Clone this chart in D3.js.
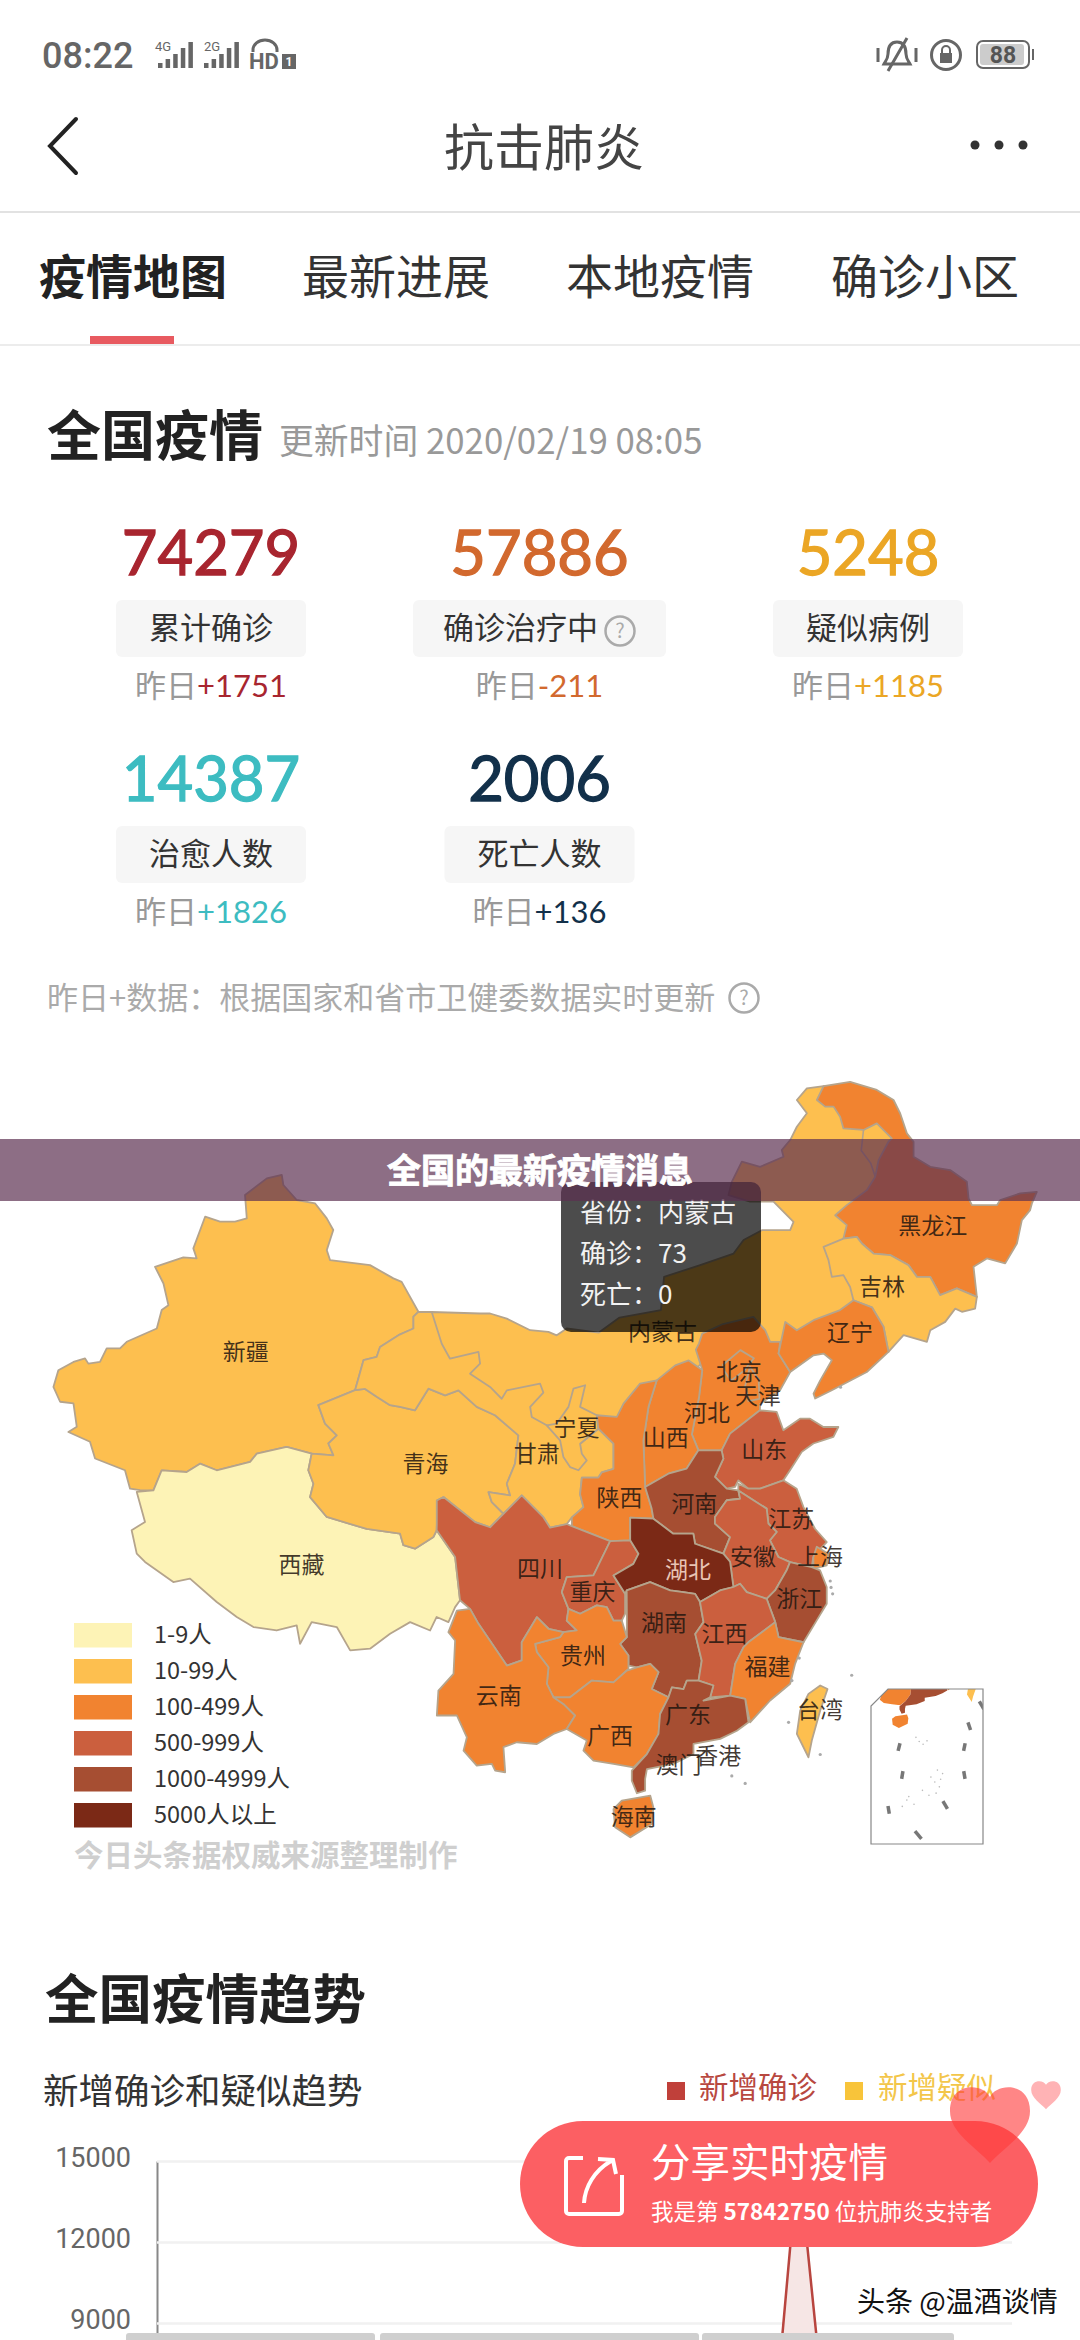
<!DOCTYPE html>
<html>
<head>
<meta charset="utf-8">
<title>抗击肺炎</title>
<script src="https://cdn.jsdelivr.net/npm/d3@7"></script>
<style>
  html, body { margin: 0; padding: 0; background: #fff; }
  svg { display: block; }
  text { font-family: "Noto Sans CJK SC", "Noto Sans", sans-serif; }
</style>
</head>
<body>
<svg id="page" width="1080" height="2340" viewBox="0 0 1080 2340"></svg>
<script>
// headline numbers
const statValues = ['74279', '57886', '5248', '14387', '2006'];
const statLabels = ['累计确诊', '确诊治疗中', '疑似病例', '治愈人数', '死亡人数'];
const statDeltas = ['+1751', '-211', '+1185', '+1826', '+136'];
const statColors = ['#a8252f', '#d2692e', '#eba625', '#3dbcc1', '#12304a'];

// choropleth bins
const binLimits = [10, 100, 500, 1000, 5000];
const binLabels = ['1-9人', '10-99人', '100-499人', '500-999人', '1000-4999人', '5000人以上'];
const binColors = ['#fdf3b6', '#fdbf4f', '#f18330', '#cb5f3e', '#a64e32', '#7b2916'];

// province outlines, [lon, lat]
const outlineNeimenggu = [[97.19,42.76],[100.23,42.69],[100.86,42.69],[101.91,42.45],[103.38,41.91],[104.53,41.83],[105.05,41.67],[105.68,41.99],[107.7,41.8],[109,42.5],[111.6,42.85],[111.8,44.4],[114.07,44.95],[116.17,45.49],[116.8,46.12],[117.95,46.58],[119.73,46.58],[119.94,46.97],[118.68,47.91],[117.21,47.91],[115.85,48.22],[116.06,48.84],[116.69,49.78],[117.84,49.54],[119.31,50.01],[119.2,50.32],[119.73,50.79],[120.15,51.41],[120.78,52.04],[120.15,52.66],[120.78,53.2],[121.83,53.31],[125,52.5],[126.8,51],[126.5,49.5],[125,46.5],[123.5,45],[124,43.5],[122,41.5],[119.8,41],[118,41],[115,41],[113,39.5],[110.5,38],[108.5,37],[107,37.6],[105.5,37],[104.4,37.3],[103,37.7],[102,38.3],[100,39],[98,40],[97,41.5]];
const outlineXinjiang = [[86.82,49],[87.76,49.16],[87.86,48.69],[88.7,47.99],[89.86,47.83],[90.59,47.13],[91,46.59],[90.59,45.65],[90.8,45.18],[93.31,44.95],[94.78,44.33],[95.3,44.17],[96.35,42.77],[96.04,42.54],[96.04,41.99],[95.1,41.68],[93.94,41.13],[93.73,40.67],[92.9,40.51],[92.37,39.11],[90.06,38.41],[90.48,37.55],[91.22,37],[90.69,36.62],[91.01,36.07],[89.64,36.15],[88.07,36.46],[86.19,36.15],[85.77,35.76],[83.67,35.37],[82.62,35.68],[81.78,35.29],[80.21,35.37],[79.69,34.43],[78.85,34.44],[78.22,34.51],[77.9,35.37],[76.02,35.92],[75.7,36.7],[74.34,37.16],[74.87,37.4],[74.66,38.49],[73.82,38.57],[73.4,39.26],[73.71,40.04],[74.66,40.43],[75.39,40.59],[75.6,40.35],[76.33,40.43],[76.75,41.06],[77.59,41.06],[78.01,41.37],[79.9,41.99],[80.21,42.85],[80.63,43.08],[80.32,44.09],[79.79,44.87],[81.57,45.31],[82.41,45.26],[82.2,45.73],[82.94,47.21],[83.88,46.98],[84.82,46.98],[85.56,47.13],[85.45,48.22]];
const outlineXizang = [[78.64,34.36],[79.16,32.96],[78.32,32.57],[78.64,31.48],[79.16,31.09],[80.94,30.15],[81.99,30.31],[83.67,29.22],[84.93,28.52],[85.98,28.05],[87.44,27.89],[88.7,28.13],[88.91,27.27],[89.64,28.28],[91.22,28.05],[92.06,26.96],[93.31,27.04],[94.57,27.74],[95.83,28.28],[97.09,27.89],[97.5,28.52],[98.24,28.28],[98.66,28.98],[98.97,29.3],[98.66,31.32],[97.5,32.57],[97.3,32.26],[96.14,31.71],[95.41,31.87],[95.2,32.41],[93.1,32.63],[90.59,33.19],[89.54,34.12],[89.75,34.74],[89.43,35.37],[89.64,36.15],[88.07,36.46],[86.19,36.15],[85.77,35.76],[83.67,35.37],[82.62,35.68],[81.78,35.29],[80.21,35.37],[79.69,34.43]];
const outlineQinghai = [[92.37,39.11],[93,39.17],[93.73,38.8],[94.57,38.41],[95.2,38.33],[96.14,38.17],[96.98,39.18],[98.03,38.87],[98.87,39.1],[100.02,38.33],[101.17,37.94],[102.64,37],[102.43,35.68],[101.91,34.74],[102.12,34.2],[100.76,34.35],[100.97,33.88],[101.7,33.34],[100.86,32.71],[99.92,32.95],[97.93,34.12],[97.51,33.96],[97.51,32.87],[97.5,32.57],[97.3,32.26],[96.14,31.71],[95.41,31.87],[95.2,32.41],[93.1,32.63],[90.59,33.19],[89.54,34.12],[89.75,34.74],[89.43,35.37],[89.64,36.15],[91.01,36.07],[90.69,36.62],[91.22,37],[90.48,37.55],[90.06,38.41]];
const outlineGansu = [[97.19,42.76],[96.35,42.77],[96.04,42.54],[96.04,41.99],[95.1,41.68],[93.94,41.13],[93.73,40.67],[92.9,40.51],[92.37,39.11],[93,39.17],[93.73,38.8],[94.57,38.41],[95.2,38.33],[96.14,38.17],[96.98,39.18],[98.03,38.87],[98.87,39.1],[100.02,38.33],[101.17,37.94],[102.64,37],[102.43,35.68],[101.91,34.74],[102.12,34.2],[100.76,34.35],[100.97,33.88],[101.7,33.34],[102.85,34.2],[104.21,33.18],[104.63,32.69],[105.68,32.86],[106,33.17],[106.73,33.65],[106.52,34.25],[106.63,35.03],[107.67,35.03],[107.88,35.27],[108.62,35.44],[108.62,36.61],[107.67,37.31],[106.52,36.61],[105.5,37],[104.42,37.47],[103.48,37.86],[103.38,38.33],[104.21,39],[104,39.42],[101.91,39.1],[101.59,38.71],[100.86,39.26],[99.6,39.88],[100.23,40.35],[100.13,40.9],[98.34,40.58],[97.82,41.28]];
const outlineNingxia = [[106.84,39.34],[106.52,38.33],[107.57,37.94],[107.67,37.31],[106.52,36.61],[106.63,36.14],[106.94,35.83],[106.42,35.37],[105.89,35.52],[105.47,35.99],[105.26,36.77],[104.42,37.47],[105.05,37.55],[105.79,38.33],[106.1,39.18]];
const outlineHeilongjiang = [[121.83,53.31],[123.5,53.51],[125.18,53.13],[126.23,52.66],[126.65,52.03],[127.07,51.1],[127.49,50.71],[127.49,50.01],[128.54,49.54],[129.79,49.39],[130.84,48.84],[130.95,48.06],[131.16,47.75],[132.73,47.75],[132.94,47.99],[134.2,48.3],[135.24,48.37],[134.93,47.83],[134.82,47.52],[134.3,47.05],[133.99,45.96],[133.25,45.03],[132.1,45.26],[131.26,44.87],[131.47,43.47],[130.21,43.86],[129.16,43.55],[128.54,44.4],[127.7,44.4],[127.17,44.95],[126.02,45.42],[124.97,45.49],[124.24,45.96],[123.92,46.27],[123.08,46.19],[123.29,46.82],[122.56,47.28],[123.29,47.75],[124.55,48.45],[125.08,49.08],[125.29,49.85],[125.91,50.71],[126.12,50.87],[125.18,51.57],[124.34,51.26],[123.08,51.33],[122.87,51.88],[122.46,52.35],[121.93,52.35],[121.41,52.66]];
const outlineJilin = [[123.08,46.19],[123.92,46.27],[124.24,45.96],[124.97,45.49],[126.02,45.42],[127.17,44.95],[127.7,44.4],[128.54,44.4],[129.16,43.55],[130.21,43.86],[131.47,43.47],[131.36,42.92],[130.53,42.77],[130.11,42.92],[129.48,42.3],[128.54,41.91],[128.33,41.37],[126.86,41.68],[125.91,40.9],[125.6,42.07],[124.87,42.98],[123.71,43.31],[123.5,43.93],[123.08,44.48],[122.35,44.4],[122.14,45.18],[121.83,45.8]];
const outlineLiaoning = [[119.42,42.3],[120.15,41.91],[121.2,42.38],[122.87,42.85],[123.71,43.31],[124.87,42.98],[125.6,42.07],[125.91,40.9],[124.55,39.96],[122.35,39.11],[121.3,38.72],[121.2,38.95],[121.62,39.57],[122.35,40.51],[121.83,40.82],[121.2,40.74],[119.73,39.96],[119,40.82]];
const outlineHebei = [[117.42,42.53],[118.16,41.91],[118.47,41.37],[119.1,41.37],[119,40.82],[119.73,39.96],[119.1,39.11],[117.84,38.48],[117.83,38.17],[115.95,37.08],[115.42,36.3],[113.96,36.3],[113.55,37.05],[114,38.8],[114.2,40.05],[113.8,41],[114,41.3],[114.2,41.75],[115.5,42.2]];
const outlineBeijing = [[115.5,40.3],[116.6,40.98],[117.45,40.6],[116.8,40],[116,39.55],[115.6,40]];
const outlineTianjin = [[117.2,40.2],[117.75,39.6],[117.8,38.7],[117.1,38.6],[116.9,39.3]];
const outlineShanxi = [[112.5,40.27],[113.35,40.5],[114.2,40.05],[114,38.8],[113.55,37.05],[113.96,36.3],[113.22,35.45],[112.07,35.21],[110.61,34.59],[110.5,36.75],[110.82,38.33],[111.34,39.57]];
const outlineShaanxi = [[111.34,39.57],[110.29,39.42],[109.25,38.48],[108.83,37.86],[107.57,37.94],[107.67,37.31],[108.62,36.61],[108.62,35.44],[107.88,35.27],[107.67,35.03],[106.63,35.03],[106.52,34.25],[106.73,33.65],[106,33.17],[106,32.76],[108.41,32.06],[109.67,32.1],[109.67,33.16],[111.13,33.11],[111.02,33.58],[110.61,34.59],[110.5,36.75],[110.82,38.33]];
const outlineShandong = [[117.83,38.17],[118.88,38.1],[119.3,37.24],[120.35,37.78],[120.98,37.78],[121.82,37.39],[122.76,37.39],[122.45,36.93],[121.19,36.62],[120.46,36.23],[119.72,35.37],[119.3,34.9],[117.84,34.51],[117.1,34.51],[116.47,34.9],[116.26,34.59],[115.74,34.51],[115,35.06],[115.53,35.91],[115.42,36.3],[115.95,37.08]];
const outlineHenan = [[113.96,36.3],[115.42,36.3],[115.53,35.91],[115,35.06],[115.74,34.51],[116.47,34.43],[116.58,34.04],[115.74,33.97],[115,33.19],[115,32.88],[115.95,32.25],[115.53,31.48],[113.75,31.94],[113.64,32.41],[112.38,32.41],[111.13,33.11],[111.02,33.58],[110.61,34.59],[112.07,35.21],[113.22,35.45]];
const outlineJiangsu = [[116.47,34.43],[116.47,34.74],[117.1,34.51],[117.84,34.51],[119.3,34.9],[120.14,34.51],[120.56,33.66],[121.29,32.64],[122.03,32.02],[121.61,31.69],[121.19,31.32],[121.08,30.85],[119.72,31.08],[118.99,31.32],[118.46,32.1],[118.88,32.49],[118.36,32.88],[118.25,33.58],[117.42,33.97]];
const outlineAnhui = [[116.47,34.43],[117.42,33.97],[118.25,33.58],[118.36,32.88],[118.88,32.49],[118.46,32.1],[118.99,31.32],[119.72,31.08],[119.51,30.7],[118.78,29.76],[118.25,29.37],[117,29.68],[116.58,30.07],[116.16,29.92],[115.95,31.1],[115.53,31.48],[115.95,32.25],[115,32.88],[115,33.19],[115.74,33.97],[116.58,34.04]];
const outlineShanghai = [[121.4,31.8],[122.13,31.47],[122.03,30.93],[121.19,30.77],[121.19,31.32]];
const outlineZhejiang = [[119.72,31.08],[121.08,30.85],[121.61,30.7],[122.03,29.92],[122.03,29.14],[121.4,28.36],[120.57,27.34],[119,27.58],[118.79,28.28],[118.25,29.37],[118.78,29.76],[119.51,30.7]];
const outlineHubei = [[109.67,33.16],[111.13,33.11],[112.38,32.41],[113.64,32.41],[113.75,31.94],[115.53,31.48],[115.95,31.1],[116.16,29.92],[115.32,29.76],[114.06,29.22],[113.75,29.6],[113.01,29.68],[112.18,29.76],[110.92,30.15],[109.45,29.76],[109.35,29.6],[108.62,30.46],[109.87,31],[110.19,31.47],[109.67,32.1],[109.67,32.38]];
const outlineChongqing = [[108.41,32.06],[109.67,32.1],[110.19,31.47],[109.87,31],[108.62,30.46],[109.35,29.6],[109.35,28.67],[109.14,28.35],[108.62,28.35],[108.2,28.98],[107.57,29.06],[106.52,28.67],[105.79,28.9],[105.37,29.68],[105.68,30.38],[107.36,30.46]];
const outlineSichuan = [[97.93,34.12],[99.92,32.95],[100.86,32.71],[101.7,33.34],[102.85,34.2],[104.21,33.18],[104.63,32.69],[105.68,32.86],[106,32.76],[108.41,32.06],[107.36,30.46],[105.68,30.38],[105.37,29.68],[105.79,28.9],[105.68,28.35],[106.31,27.89],[105.47,27.81],[104.53,27.97],[103.8,28.51],[102.85,27.34],[102.85,26.49],[101.91,26.25],[100.13,28.2],[99.6,28.9],[98.97,29.3],[98.66,31.32],[97.5,32.57],[97.51,32.87],[97.51,33.96]];
const outlineHunan = [[109.45,29.76],[110.92,30.15],[112.18,29.76],[113.01,29.68],[113.75,29.6],[114.06,29.22],[114.28,28.28],[113.76,27.73],[114.17,26.48],[113.97,25.55],[113.23,25.55],[113.02,25.15],[112.29,25.23],[112.08,24.77],[111.03,25.16],[111.45,25.94],[110.93,26.33],[110.09,26.17],[109.56,26.25],[109.56,26.72],[109.04,27.26],[109.46,27.58],[109.46,28.67]];
const outlineJiangxi = [[114.06,29.22],[115.32,29.76],[116.16,29.92],[116.58,30.07],[117,29.68],[118.25,29.37],[118.79,28.28],[117.1,27.34],[116.8,27.11],[116.27,26.33],[115.96,24.85],[114.7,24.77],[114.9,25.32],[113.97,25.55],[114.17,26.48],[113.76,27.73],[114.28,28.28]];
const outlineFujian = [[118.79,28.28],[119,27.58],[120.57,27.34],[120.04,26.33],[119.73,25.4],[118.47,24.62],[117.21,23.6],[116.9,24.7],[115.96,24.85],[116.27,26.33],[116.8,27.11],[117.1,27.34]];
const outlineGuizhou = [[103.69,27.26],[105.26,27.58],[105.47,27.81],[106.31,27.89],[105.68,28.35],[105.79,28.9],[106.52,28.67],[107.57,29.06],[108.2,28.98],[108.62,28.35],[109.14,28.35],[109.46,27.58],[109.04,27.26],[109.56,26.72],[109.56,26.1],[108.62,25.47],[107.26,25.55],[105.89,24.77],[104.85,24.77],[104.43,25.4],[104.53,26.17],[103.8,26.88]];
const outlineYunnan = [[98.77,28.82],[99.6,28.9],[100.13,28.2],[101.91,26.25],[102.85,26.49],[102.85,27.34],[103.8,28.51],[104.53,27.97],[105.47,27.81],[105.26,27.58],[103.69,27.26],[103.8,26.88],[104.53,26.17],[104.43,25.4],[104.85,24.77],[105.47,24.46],[106.21,23.92],[105.68,23.29],[104.85,23.06],[103.8,22.59],[102.54,22.67],[101.7,22.44],[101.81,21.27],[101.18,21.35],[100.97,21.66],[100.02,21.58],[99.19,22.28],[99.4,22.9],[98.77,23.92],[97.51,23.92],[97.61,25.08],[98.56,25.86],[98.66,27.42],[98.24,27.81]];
const outlineGuangxi = [[104.85,24.77],[105.89,24.77],[107.26,25.55],[108.62,25.47],[109.46,26.02],[110.09,26.17],[110.93,26.33],[111.45,25.94],[111.03,25.16],[112.08,24.77],[111.55,23.99],[111.45,23.06],[110.72,22.12],[109.88,21.5],[108.62,21.66],[107.36,21.81],[106.73,22.28],[106.94,22.75],[105.68,23.29],[106.21,23.92],[105.47,24.46]];
const outlineGuangdong = [[112.08,24.77],[112.29,25.23],[113.02,25.15],[113.23,25.55],[113.97,25.55],[114.9,25.32],[114.7,24.77],[114.28,24.62],[115.96,24.85],[116.9,24.7],[117.11,23.6],[116.38,23.21],[115.33,22.83],[113.65,22.59],[113.65,22.12],[112.39,21.66],[110.72,21.42],[110.61,20.96],[110.61,20.41],[110.09,20.29],[109.77,20.88],[109.77,21.35],[110.72,22.12],[111.45,23.06],[111.55,23.99]];
const outlineHainan = [[109.14,19.94],[110.93,20.18],[111.13,19.63],[111.03,18.85],[109.67,18.23],[108.72,18.7],[108.62,19.55]];
const outlineTaiwan = [[121.62,25.32],[122.08,25.16],[121.62,24.15],[121.09,22.75],[120.88,21.97],[120.15,23.06],[120.36,24.15],[120.88,24.93]];

// drawn back to front, same order in all province arrays
const provinceNames = ['内蒙古','新疆','西藏','青海','甘肃','宁夏','黑龙江','吉林','河北','辽宁','北京','天津','山西','陕西','山东','河南','江苏','安徽','上海','浙江','四川','重庆','湖北','湖南','江西','福建','贵州','云南','广西','广东','海南','台湾'];
const provinceConfirmed = [73,76,1,18,91,71,470,89,302,121,387,128,128,245,544,1254,631,982,333,1172,514,560,62031,1008,933,293,146,174,244,1331,168,24];
const provinceOutlines = [outlineNeimenggu,outlineXinjiang,outlineXizang,outlineQinghai,outlineGansu,outlineNingxia,outlineHeilongjiang,outlineJilin,outlineHebei,outlineLiaoning,outlineBeijing,outlineTianjin,outlineShanxi,outlineShaanxi,outlineShandong,outlineHenan,outlineJiangsu,outlineAnhui,outlineShanghai,outlineZhejiang,outlineSichuan,outlineChongqing,outlineHubei,outlineHunan,outlineJiangxi,outlineFujian,outlineGuizhou,outlineYunnan,outlineGuangxi,outlineGuangdong,outlineHainan,outlineTaiwan];

// grey line inside the Hinggan area
const hingganLine = [[124.34,51.26],[124.2,50.3],[124.8,49.7],[125.08,49.08]];

// coastal specks
const speckLons = [123.6,119.63,121.62,116.06,116.9,119.84,122.25,122.3,122.4,122.9,120.3,114.3];
const speckLats = [25.8,23.6,22.1,21.1,20.75,25.55,30.2,29.9,29.6,39.25,26.6,22.25];

// map labels
const labelNames = ['新疆','黑龙江','吉林','辽宁','内蒙古','北京','天津','河北','宁夏','山西','山东','甘肃','青海','陕西','河南','江苏','西藏','四川','安徽','上海','湖北','重庆','浙江','湖南','江西','贵州','福建','云南','台湾','广东','广西','香港','澳门','海南'];
const labelLons = [85.5,128.7,125.5,123.5,111.7,116.5,117.7,114.5,106.3,111.9,118.1,103.8,96.8,109,113.7,119.8,89,104,117.4,121.6,113.3,107.3,120.3,111.8,115.6,106.7,118.3,101.4,121.6,113.3,108.4,115.2,112.7,109.9];
const labelLats = [40.9,46.8,43.95,41.8,41.86,39.95,38.86,38.08,37.38,36.9,36.32,36.13,35.67,34.1,33.83,33.1,30.97,30.77,31.35,31.35,30.72,29.68,29.37,28.23,27.76,26.69,26.2,24.85,24.2,23.95,22.98,22.05,21.63,19.21];

// south china sea inset
const dashLons = [122.4,120.5,119.75,119.75,116.8,112.65,108.1,110.2,109.7];
const dashLats = [21.5,18.5,15.5,11.5,7.2,2.9,6.5,11.5,15.5];
const dashTilts = [0.35,0.2,-0.12,0.1,0.35,0.5,0.1,-0.1,-0.15];
const islandLons = [112.3,112.8,113.4,114,114.6,115.2,115.9,113.3,114.3,115.4,116.1,110.9,112,111.2,110.2,116.4,115.6];
const islandLats = [16.9,16.3,15.9,16.4,11.2,10.5,9.8,9.3,8.6,8.9,10.9,7.9,7.3,8.4,7,11.7,12.2];

// trend chart, only the part above the fold is readable
const trendDates = ['2020-02-11', '2020-02-12', '2020-02-13'];
const trendConfirmed = [2480, 15150, 4020];
const trendTicks = [9000, 12000, 15000];

const svg = d3.select('#page');

function label(parent, x, y, str, size, fill, anchor, weight) {
  return parent.append('text')
    .attr('x', x).attr('y', y)
    .attr('dy', '0.36em')
    .attr('font-size', size)
    .attr('fill', fill)
    .attr('text-anchor', anchor || 'start')
    .attr('font-weight', weight || 400)
    .text(str);
}

// ----- status bar -----
function drawStatusBar() {
  const g = svg.append('g');
  label(g, 42, 55, '08:22', 36, '#666', 'start', 500).style('font-family', 'Roboto');
  label(g, 155, 46, '4G', 13, '#666').style('font-family', 'Roboto');
  label(g, 204, 46, '2G', 13, '#666').style('font-family', 'Roboto');
  [158, 204].forEach(x0 => {
    [5, 9, 14, 20, 26].forEach((h, i) => {
      g.append('rect').attr('x', x0 + i * 7.6).attr('y', 68 - h).attr('width', 4.5).attr('height', h).attr('fill', '#666');
    });
  });
  label(g, 249, 61, 'HD', 22, '#666', 'start', 700).style('font-family', 'Roboto');
  g.append('rect').attr('x', 282).attr('y', 54).attr('width', 14).attr('height', 15).attr('fill', '#666');
  label(g, 289, 62, '1', 12, '#fff', 'middle', 700).style('font-family', 'Roboto');
  g.append('path').attr('d', 'M253 52 v-2 a12 10 0 0 1 24 0 v2').attr('fill', 'none').attr('stroke', '#666').attr('stroke-width', 3);
  // bell
  g.append('path').attr('d', 'M897 42 c-7 0 -9 6 -9 12 c0 5 -3 8 -4 10 h26 c-1 -2 -4 -5 -4 -10 c0 -6 -2 -12 -9 -12 z')
    .attr('fill', 'none').attr('stroke', '#666').attr('stroke-width', 3);
  g.append('path').attr('d', 'M907 38 L888 71 M878 48 v14 M916 48 v14').attr('stroke', '#666').attr('stroke-width', 3);
  // rotation lock
  g.append('circle').attr('cx', 946).attr('cy', 55).attr('r', 14.5).attr('fill', 'none').attr('stroke', '#666').attr('stroke-width', 3);
  g.append('rect').attr('x', 940).attr('y', 53).attr('width', 12).attr('height', 10).attr('fill', '#666');
  g.append('path').attr('d', 'M942 53 v-3 a4 4 0 0 1 8 0 v3').attr('fill', 'none').attr('stroke', '#666').attr('stroke-width', 2);
  // battery
  g.append('rect').attr('x', 977).attr('y', 41).attr('width', 52).attr('height', 27).attr('rx', 6).attr('fill', 'none').attr('stroke', '#666').attr('stroke-width', 2);
  g.append('rect').attr('x', 980).attr('y', 44).attr('width', 44).attr('height', 21).attr('rx', 3).attr('fill', '#ccc');
  g.append('rect').attr('x', 1032).attr('y', 49).attr('width', 2).attr('height', 11).attr('fill', '#666');
  label(g, 1003, 55, '88', 23, '#555', 'middle', 700).style('font-family', 'Roboto');
}

// ----- title bar and tabs -----
function drawHeader() {
  const g = svg.append('g');
  g.append('path').attr('d', 'M76 119 L50 146 L76 173').attr('fill', 'none').attr('stroke', '#222').attr('stroke-width', 4).attr('stroke-linecap', 'round');
  label(g, 544, 148, '抗击肺炎', 50, '#444', 'middle');
  [975, 999, 1023].forEach(x => g.append('circle').attr('cx', x).attr('cy', 145).attr('r', 4.5).attr('fill', '#333'));
  g.append('rect').attr('x', 0).attr('y', 211).attr('width', 1080).attr('height', 2).attr('fill', '#e2e2e2');

  const tabs = ['疫情地图', '最新进展', '本地疫情', '确诊小区'];
  const tabX = [133, 396, 660, 925];
  tabs.forEach((t, i) => label(g, tabX[i], 277, t, 47, i === 0 ? '#222' : '#333', 'middle', i === 0 ? 700 : 400));
  g.append('rect').attr('x', 90).attr('y', 336).attr('width', 84).attr('height', 8).attr('fill', '#e85a60');
  g.append('rect').attr('x', 0).attr('y', 344).attr('width', 1080).attr('height', 2).attr('fill', '#ececec');
}

// ----- stat grid -----
function drawStats() {
  const g = svg.append('g');
  label(g, 47, 437, '全国疫情', 54, '#222', 'start', 700);
  label(g, 279, 441, '更新时间 2020/02/19 08:05', 34.8, '#999');

  const colX = d3.scalePoint().domain([0, 1, 2]).range([211, 868]);
  const rowY = d3.scalePoint().domain([0, 1]).range([553, 779]);
  const boxW = [190, 253, 190, 190, 190];

  statValues.forEach((v, i) => {
    const cx = colX(i % 3);
    const y = rowY(Math.floor(i / 3));
    label(g, cx, y, v, 61.5, statColors[i], 'middle', 400)
      .style('font-family', 'Lato')
      .attr('stroke', statColors[i]).attr('stroke-width', 1.3);
    g.append('rect').attr('x', cx - boxW[i] / 2).attr('y', y + 47).attr('width', boxW[i]).attr('height', 57)
      .attr('rx', 6).attr('fill', '#f6f6f6');
    if (i === 1) {
      label(g, 443, y + 75, statLabels[i], 31, '#333');
      help(g, 620, y + 78);
    } else {
      label(g, cx, y + 75, statLabels[i], 31, '#333', 'middle');
    }
    const t = label(g, cx, y + 133, '', 31, '#999', 'middle');
    t.append('tspan').text('昨日');
    t.append('tspan').attr('fill', statColors[i]).style('font-family', 'Lato').text(statDeltas[i]);
  });

  label(g, 47, 998, '昨日+数据：根据国家和省市卫健委数据实时更新', 31, '#aaa');
  help(g, 744, 998);
}

function help(g, cx, cy) {
  g.append('circle').attr('cx', cx).attr('cy', cy).attr('r', 14.5).attr('fill', 'none').attr('stroke', '#aaa').attr('stroke-width', 2.5);
  label(g, cx, cy, '?', 20, '#aaa', 'middle');
}

// ----- map -----
function ring(outline) {
  return { type: 'Polygon', coordinates: [outline.concat([outline[0]])] };
}

function pathFor(x, y) {
  return d3.geoPath(d3.geoTransform({
    point(lon, lat) { this.stream.point(x(lon), y(lat)); }
  }));
}

function drawMap() {
  const g = svg.append('g');
  const mapX = d3.scaleLinear().domain([73.5, 135]).range([55, 1033]);
  const mapY = d3.scaleLinear().domain([53.5, 18.2]).range([1082, 1838]);
  const color = d3.scaleThreshold().domain(binLimits).range(binColors);
  const path = pathFor(mapX, mapY);

  g.selectAll('path.province')
    .data(provinceOutlines)
    .enter().append('path')
    .attr('class', 'province')
    .attr('d', d => path(ring(d)))
    .attr('fill', (d, i) => color(provinceConfirmed[i]))
    .attr('stroke', '#b5a48c')
    .attr('stroke-width', 1.8)
    .attr('stroke-linejoin', 'round');

  g.append('path')
    .attr('d', path({ type: 'LineString', coordinates: hingganLine }))
    .attr('fill', 'none')
    .attr('stroke', '#b5a48c')
    .attr('stroke-width', 1.6);

  g.selectAll('circle.speck')
    .data(speckLons)
    .enter().append('circle')
    .attr('class', 'speck')
    .attr('cx', d => mapX(d))
    .attr('cy', (d, i) => mapY(speckLats[i]))
    .attr('r', 1.6)
    .attr('fill', '#aaa');

  g.selectAll('text.name')
    .data(labelNames)
    .enter().append('text')
    .attr('class', 'name')
    .attr('x', (d, i) => mapX(labelLons[i]))
    .attr('y', (d, i) => mapY(labelLats[i]))
    .attr('dy', '0.36em')
    .attr('text-anchor', 'middle')
    .attr('font-size', 23)
    .attr('fill', d => d === '湖北' ? '#e9c4b4' : 'rgba(35,22,15,0.85)')
    .text(d => d);

  // inset
  const insetX = d3.scaleLinear().domain([110, 121]).range([901, 972.5]);
  const insetY = d3.scaleLinear().domain([19.1, 3.9]).range([1722, 1828]);
  const insetPath = pathFor(insetX, insetY);
  const frame = 'M888 1689 H983 V1844 H871 V1706 Z';
  svg.append('defs').append('clipPath').attr('id', 'inset-clip').append('path').attr('d', frame);
  const inset = g.append('g').attr('clip-path', 'url(#inset-clip)');
  inset.selectAll('path')
    .data(provinceOutlines)
    .enter().append('path')
    .attr('d', d => insetPath(ring(d)))
    .attr('fill', (d, i) => color(provinceConfirmed[i]))
    .attr('stroke', 'none');
  inset.selectAll('circle')
    .data(islandLons)
    .enter().append('circle')
    .attr('cx', d => insetX(d))
    .attr('cy', (d, i) => insetY(islandLats[i]))
    .attr('r', 0.8)
    .attr('fill', '#bbb');
  inset.selectAll('line')
    .data(dashLons)
    .enter().append('line')
    .attr('x1', (d, i) => insetX(d - dashTilts[i]))
    .attr('x2', (d, i) => insetX(d + dashTilts[i]))
    .attr('y1', (d, i) => insetY(dashLats[i] + 0.55))
    .attr('y2', (d, i) => insetY(dashLats[i] - 0.55))
    .attr('stroke', '#777')
    .attr('stroke-width', 3.5);
  g.append('path').attr('d', frame).attr('fill', 'none').attr('stroke', '#888').attr('stroke-width', 1.2);

  // legend
  const legendY = d3.scaleBand().domain(binLabels).range([1623, 1839]);
  binLabels.forEach((b, i) => {
    g.append('rect').attr('x', 74).attr('y', legendY(b)).attr('width', 58).attr('height', 24.5).attr('fill', binColors[i]);
    label(g, 154, legendY(b) + 12, b, 23.5, '#333');
  });
  label(g, 74, 1855, '今日头条据权威来源整理制作', 29.5, '#cfcfcf', 'start', 700);

  // tooltip
  g.append('rect').attr('x', 561).attr('y', 1182).attr('width', 200).attr('height', 150).attr('rx', 10).attr('fill', 'rgba(0,0,0,0.7)');
  ['省份：内蒙古', '确诊：73', '死亡：0'].forEach((t, i) => label(g, 580, 1213 + i * 41, t, 26, '#f2f2f2'));

  // headline strip
  svg.append('rect').attr('x', 0).attr('y', 1139).attr('width', 1080).attr('height', 62).attr('fill', 'rgba(92,49,81,0.7)');
  label(svg, 540, 1171, '全国的最新疫情消息', 34, '#fff', 'middle', 700)
    .attr('stroke', '#fff').attr('stroke-width', 0.8);
}

// ----- trend -----
function drawTrend() {
  const g = svg.append('g');
  label(g, 45, 2000, '全国疫情趋势', 53.5, '#222', 'start', 700);
  label(g, 43, 2091, '新增确诊和疑似趋势', 35.5, '#333');

  g.append('rect').attr('x', 667).attr('y', 2082).attr('width', 18).attr('height', 18).attr('fill', '#c0403a');
  label(g, 699, 2087, '新增确诊', 29.5, '#b8483f');
  g.append('rect').attr('x', 845).attr('y', 2082).attr('width', 18).attr('height', 18).attr('fill', '#f8c43a');
  label(g, 878, 2087, '新增疑似', 29.5, '#f3c64a');

  const y = d3.scaleLinear().domain([0, 15000]).range([2566, 2161]);
  const x = d3.scaleTime().domain([new Date('2020-01-22'), new Date('2020-02-19')]).range([157, 1012]);

  const axis = g.append('g')
    .attr('transform', 'translate(157,0)')
    .call(d3.axisLeft(y).tickValues(trendTicks).tickSizeInner(-855).tickSizeOuter(0).tickFormat(d3.format('d')));
  axis.select('.domain').attr('stroke', '#888').attr('stroke-width', 2);
  axis.selectAll('.tick line').attr('stroke', '#f1f1f1').attr('stroke-width', 2.5);
  axis.selectAll('.tick text')
    .attr('x', -26)
    .attr('dy', '0.2em')
    .attr('fill', '#666')
    .attr('font-size', 27)
    .style('font-family', 'Roboto');

  const points = trendDates.map((d, i) => [new Date(d), trendConfirmed[i]]);
  const area = d3.area().x(d => x(d[0])).y0(y(0)).y1(d => y(d[1]));
  const line = d3.line().x(d => x(d[0])).y(d => y(d[1]));
  g.append('path').attr('d', area(points)).attr('fill', '#f6e6e5');
  g.append('path').attr('d', line(points)).attr('fill', 'none').attr('stroke', '#b8453f').attr('stroke-width', 2.5);

  // grey strip along the bottom edge
  [[126, 249], [380, 319], [702, 252]].forEach(s => {
    g.append('rect').attr('x', s[0]).attr('y', 2333).attr('width', s[1]).attr('height', 10).attr('rx', 3).attr('fill', '#cfcfcf');
  });
}

// ----- floating share button -----
function drawShare() {
  const g = svg.append('g');
  g.append('rect').attr('x', 520).attr('y', 2121).attr('width', 518).attr('height', 126).attr('rx', 63).attr('fill', '#fc5f63');
  g.append('path').attr('d', 'M583 2158 h-14 a3 3 0 0 0 -3 3 v50 a3 3 0 0 0 3 3 h50 a3 3 0 0 0 3 -3 v-36')
    .attr('fill', 'none').attr('stroke', '#fff').attr('stroke-width', 4);
  g.append('path').attr('d', 'M584 2203 c1 -16 10 -32 27 -42 M598 2159 l15 1 l3 14')
    .attr('fill', 'none').attr('stroke', '#fff').attr('stroke-width', 4);
  label(g, 651, 2163, '分享实时疫情', 39.5, '#fff');
  const sub = label(g, 651, 2212, '', 22.5, '#fff');
  sub.append('tspan').text('我是第 ');
  sub.append('tspan').attr('font-weight', 700).text('57842750');
  sub.append('tspan').text(' 位抗肺炎支持者');

  const heart = 'M0 -22 C-6 -36 -40 -38 -40 -8 C-40 14 -14 28 0 44 C14 28 40 14 40 -8 C40 -38 6 -36 0 -22 Z';
  g.append('path').attr('d', heart).attr('transform', 'translate(990,2119)').attr('fill', 'rgba(255,60,60,0.62)');
  g.append('path').attr('d', heart).attr('transform', 'translate(1046,2093) scale(0.37)').attr('fill', '#ffb3b5');

  label(g, 857, 2302, '头条 @温酒谈情', 28, '#111')
    .attr('stroke', '#fff').attr('stroke-width', 3).attr('paint-order', 'stroke');
}

drawStatusBar();
drawHeader();
drawStats();
drawMap();
drawTrend();
drawShare();
</script>
</body>
</html>
